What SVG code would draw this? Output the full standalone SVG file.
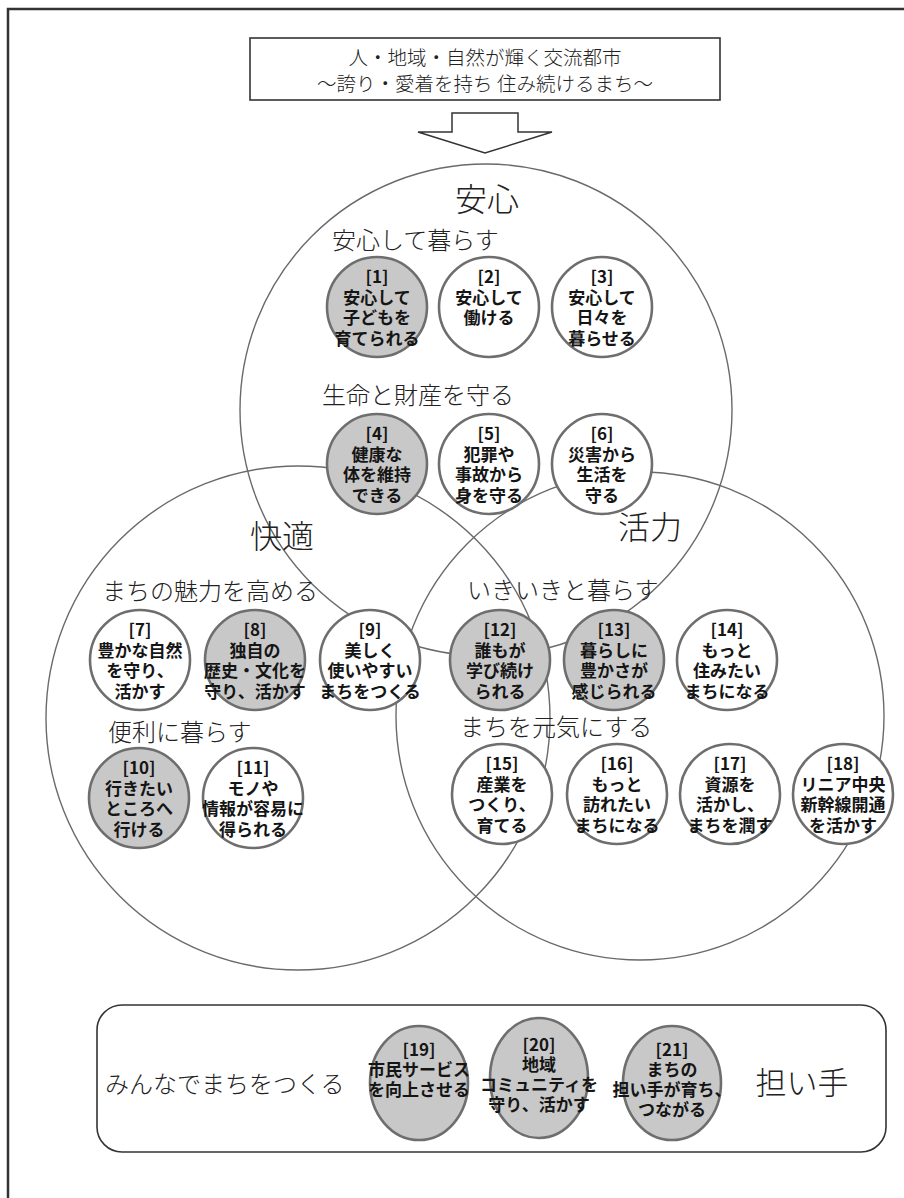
<svg xmlns="http://www.w3.org/2000/svg" width="904" height="1198" viewBox="0 0 904 1198">
<style>
.frame{fill:none;stroke:#333;stroke-width:2.5}
.box{fill:#fff;stroke:#333;stroke-width:1.6}
.big{fill:none;stroke:#6a6a6a;stroke-width:1.4}
.n{fill:#fff;stroke:#6e6e6e;stroke-width:2.6}
.g{fill:#c8c8c8}
.nt{font-family:"Noto Sans CJK JP","Noto Sans CJK SC",sans-serif;font-weight:700;font-size:17px;fill:#151515;text-anchor:middle}
.t{font-family:"Noto Sans CJK JP","Noto Sans CJK SC",sans-serif;font-weight:300;fill:#222}
.h{font-size:32px;text-anchor:middle}
.s{font-size:24px}
.ti{font-size:19.5px;text-anchor:middle}
</style>
<rect x="0" y="0" width="904" height="1198" fill="#fff"/>
<rect class="frame" x="8" y="9" width="1000" height="1400"/>

<g id="title">
<rect class="box" x="250" y="38" width="470" height="62"/>
<text class="t ti" x="485" y="65">人・地域・自然が輝く交流都市</text>
<text class="t ti" x="485" y="91">〜誇り・愛着を持ち 住み続けるまち〜</text>
</g>
<g id="arrow">
<path d="M452 113 H518 V132 H552 L485 153 L418 132 H452 Z" fill="#fff" stroke="#333" stroke-width="1.5"/>
</g>

<g id="connectors">
<circle class="big" cx="486" cy="410" r="246"/>
<circle class="big" cx="298" cy="718" r="252"/>
<circle class="big" cx="640" cy="716" r="244"/>
</g>

<g id="labels">
<text class="t h" x="487" y="211">安心</text>
<text class="t s" x="332" y="249">安心して暮らす</text>
<text class="t s" x="322" y="404">生命と財産を守る</text>
<text class="t h" x="282" y="548">快適</text>
<text class="t h" x="650" y="539">活力</text>
<text class="t s" x="102" y="600">まちの魅力を高める</text>
<text class="t s" x="467" y="599">いきいきと暮らす</text>
<text class="t s" x="108" y="741">便利に暮らす</text>
<text class="t s" x="460" y="736">まちを元気にする</text>
</g>

<g id="n1"><circle class="n g" cx="377" cy="307" r="50"/><text class="nt"><tspan x="377" y="283">[1]</tspan><tspan x="377" y="303.5">安心して</tspan><tspan x="377" y="324">子どもを</tspan><tspan x="377" y="344.5">育てられる</tspan></text></g>
<g id="n2"><circle class="n" cx="489" cy="307" r="50"/><text class="nt"><tspan x="489" y="283">[2]</tspan><tspan x="489" y="303.5">安心して</tspan><tspan x="489" y="324">働ける</tspan></text></g>
<g id="n3"><circle class="n" cx="602" cy="307" r="50"/><text class="nt"><tspan x="602" y="283">[3]</tspan><tspan x="602" y="303.5">安心して</tspan><tspan x="602" y="324">日々を</tspan><tspan x="602" y="344.5">暮らせる</tspan></text></g>
<g id="n4"><circle class="n g" cx="377" cy="464" r="50"/><text class="nt"><tspan x="377" y="440">[4]</tspan><tspan x="377" y="460.5">健康な</tspan><tspan x="377" y="481">体を維持</tspan><tspan x="377" y="501.5">できる</tspan></text></g>
<g id="n5"><circle class="n" cx="489" cy="464" r="50"/><text class="nt"><tspan x="489" y="440">[5]</tspan><tspan x="489" y="460.5">犯罪や</tspan><tspan x="489" y="481">事故から</tspan><tspan x="489" y="501.5">身を守る</tspan></text></g>
<g id="n6"><circle class="n" cx="602" cy="464" r="50"/><text class="nt"><tspan x="602" y="440">[6]</tspan><tspan x="602" y="460.5">災害から</tspan><tspan x="602" y="481">生活を</tspan><tspan x="602" y="501.5">守る</tspan></text></g>

<g id="n7"><circle class="n" cx="140" cy="660" r="50"/><text class="nt"><tspan x="140" y="636">[7]</tspan><tspan x="140" y="656.5">豊かな自然</tspan><tspan x="140" y="677">を守り、</tspan><tspan x="140" y="697.5">活かす</tspan></text></g>
<g id="n8"><circle class="n g" cx="255" cy="660" r="50"/><text class="nt"><tspan x="255" y="636">[8]</tspan><tspan x="255" y="656.5">独自の</tspan><tspan x="255" y="677">歴史・文化を</tspan><tspan x="255" y="697.5">守り、活かす</tspan></text></g>
<g id="n9"><circle class="n" cx="370" cy="660" r="50"/><text class="nt"><tspan x="370" y="636">[9]</tspan><tspan x="370" y="656.5">美しく</tspan><tspan x="370" y="677">使いやすい</tspan><tspan x="370" y="697.5">まちをつくる</tspan></text></g>
<g id="n10"><circle class="n g" cx="139" cy="798" r="50"/><text class="nt"><tspan x="139" y="774">[10]</tspan><tspan x="139" y="794.5">行きたい</tspan><tspan x="139" y="815">ところへ</tspan><tspan x="139" y="835.5">行ける</tspan></text></g>
<g id="n11"><circle class="n" cx="253" cy="798" r="50"/><text class="nt"><tspan x="253" y="774">[11]</tspan><tspan x="253" y="794.5">モノや</tspan><tspan x="253" y="815">情報が容易に</tspan><tspan x="253" y="835.5">得られる</tspan></text></g>

<g id="n12"><circle class="n g" cx="500" cy="660" r="50"/><text class="nt"><tspan x="500" y="636">[12]</tspan><tspan x="500" y="656.5">誰もが</tspan><tspan x="500" y="677">学び続け</tspan><tspan x="500" y="697.5">られる</tspan></text></g>
<g id="n13"><circle class="n g" cx="614" cy="660" r="50"/><text class="nt"><tspan x="614" y="636">[13]</tspan><tspan x="614" y="656.5">暮らしに</tspan><tspan x="614" y="677">豊かさが</tspan><tspan x="614" y="697.5">感じられる</tspan></text></g>
<g id="n14"><circle class="n" cx="727" cy="660" r="50"/><text class="nt"><tspan x="727" y="636">[14]</tspan><tspan x="727" y="656.5">もっと</tspan><tspan x="727" y="677">住みたい</tspan><tspan x="727" y="697.5">まちになる</tspan></text></g>
<g id="n15"><circle class="n" cx="502" cy="794" r="50"/><text class="nt"><tspan x="502" y="770">[15]</tspan><tspan x="502" y="790.5">産業を</tspan><tspan x="502" y="811">つくり、</tspan><tspan x="502" y="831.5">育てる</tspan></text></g>
<g id="n16"><circle class="n" cx="617" cy="794" r="50"/><text class="nt"><tspan x="617" y="770">[16]</tspan><tspan x="617" y="790.5">もっと</tspan><tspan x="617" y="811">訪れたい</tspan><tspan x="617" y="831.5">まちになる</tspan></text></g>
<g id="n17"><circle class="n" cx="730" cy="794" r="50"/><text class="nt"><tspan x="730" y="770">[17]</tspan><tspan x="730" y="790.5">資源を</tspan><tspan x="730" y="811">活かし、</tspan><tspan x="730" y="831.5">まちを潤す</tspan></text></g>
<g id="n18"><circle class="n" cx="843" cy="794" r="50"/><text class="nt"><tspan x="843" y="770">[18]</tspan><tspan x="843" y="790.5">リニア中央</tspan><tspan x="843" y="811">新幹線開通</tspan><tspan x="843" y="831.5">を活かす</tspan></text></g>

<g id="bottom">
<rect class="box" x="97" y="1005" width="789" height="147" rx="25"/>
<text class="t s" x="105" y="1093">みんなでまちをつくる</text>
<text class="t" x="802" y="1094" font-size="31" text-anchor="middle">担い手</text>
</g>
<g id="n19"><ellipse class="n g" cx="419" cy="1083" rx="49" ry="57"/><text class="nt"><tspan x="419" y="1056">[19]</tspan><tspan x="419" y="1076">市民サービス</tspan><tspan x="419" y="1096">を向上させる</tspan></text></g>
<g id="n20"><ellipse class="n g" cx="539" cy="1078" rx="49" ry="60"/><text class="nt"><tspan x="539" y="1051">[20]</tspan><tspan x="539" y="1071">地域</tspan><tspan x="539" y="1091">コミュニティを</tspan><tspan x="539" y="1111">守り、活かす</tspan></text></g>
<g id="n21"><ellipse class="n g" cx="672" cy="1083" rx="49" ry="57"/><text class="nt"><tspan x="672" y="1056">[21]</tspan><tspan x="672" y="1076">まちの</tspan><tspan x="672" y="1096">担い手が育ち、</tspan><tspan x="672" y="1116">つながる</tspan></text></g>
</svg>
